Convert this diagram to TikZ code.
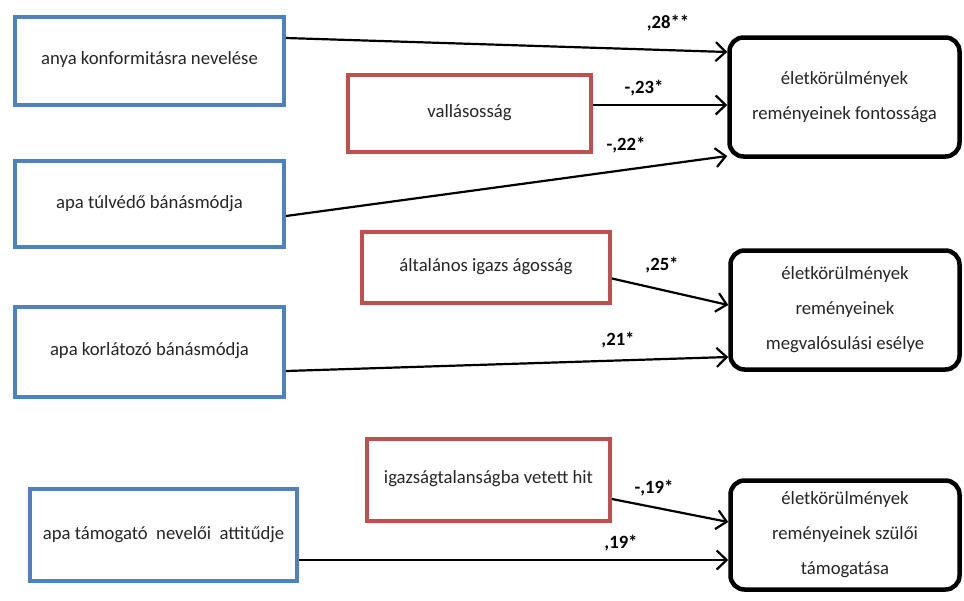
\documentclass[tikz,border=0pt]{standalone}
\usepackage{fontspec}
\setmainfont{Carlito}
\usetikzlibrary{arrows.meta}
\definecolor{boxblue}{HTML}{4F81BD}
\definecolor{boxred}{HTML}{C0504D}
\begin{document}
\begin{tikzpicture}[x=1pt,y=-1pt,
  every node/.style={font=\fontsize{18.7}{22}\selectfont, text=black!85},
  bluebox/.style={draw=boxblue, line width=4pt, fill=white, inner sep=0pt},
  redbox/.style={draw=boxred, line width=4pt, fill=white, inner sep=0pt},
  outbox/.style={draw=black, line width=4.5pt, rounded corners=14pt, fill=white, inner sep=0pt, align=center, font=\fontsize{18.7}{35}\selectfont},
  coef/.style={font=\bfseries\fontsize{18.7}{22}\selectfont, text=black, inner sep=0pt},
  path/.style={draw=black, line width=2.2pt, -{Straight Barb[length=10pt,width=19pt,line width=2.2pt]}}
]
\useasboundingbox[fill=white] (0,0) rectangle (964,600);

% outcome boxes
\node[outbox, minimum width=230, minimum height=119] (K1) at (844.5,97) {életkörülmények\\reményeinek fontossága};
\node[outbox, minimum width=229, minimum height=119] (K2) at (845,310) {életkörülmények\\reményeinek\\megvalósulási esélye};
\node[outbox, minimum width=229, minimum height=109] (K3) at (845,535) {életkörülmények\\reményeinek szülői\\támogatása};

% predictor boxes (blue)
\node[bluebox, minimum width=269, minimum height=88] (B1) at (149.5,61) {\raisebox{5pt}{anya konformitásra nevelése}};
\node[bluebox, minimum width=269, minimum height=86] (B2) at (149.5,204) {\raisebox{4pt}{apa túlvédő bánásmódja}};
\node[bluebox, minimum width=269, minimum height=90] (B3) at (149.5,352) {\raisebox{5pt}{apa korlátozó bánásmódja}};
\node[bluebox, minimum width=267, minimum height=92] (B4) at (163.5,535) {\raisebox{5pt}{apa támogató\ \ nevelői\ \ attitűdje}};

% predictor boxes (red)
\node[redbox, minimum width=243, minimum height=77] (R1) at (469.5,113.5) {\raisebox{5pt}{vallásosság}};
\node[redbox, minimum width=248, minimum height=71] (R2) at (486,267.5) {\raisebox{4pt}{általános igazs ágosság}};
\node[redbox, minimum width=243, minimum height=82] (R3) at (488.5,480) {\raisebox{5pt}{igazságtalanságba vetett hit}};

% paths
\draw[path] ([yshift=23pt]B1.east) -- ([yshift=45pt]K1.west);
\draw[path] ([yshift=8.5pt]R1.east) -- ([yshift=-8pt]K1.west);
\draw[path] ([yshift=-12pt]B2.east) -- ([yshift=-59pt]K1.west);
\draw[path] ([yshift=-11pt]R2.east) -- ([yshift=5pt]K2.west);
\draw[path] ([yshift=-19pt]B3.east) -- ([yshift=-47pt]K2.west);
\draw[path] ([yshift=-19pt]R3.east) -- ([yshift=13pt]K3.west);
\draw[path] ([yshift=-25pt]B4.east) -- ([yshift=-25pt]K3.west);

% coefficients
\node[coef] (c1) at (668,23) {,28**};
\node[coef] (c2) at (644,88) {-,23*};
\node[coef] (c3) at (626,145) {-,22*};
\node[coef] (c4) at (662,265) {,25*};
\node[coef] (c5) at (618,340) {,21*};
\node[coef] (c6) at (654,488) {-,19*};
\node[coef] (c7) at (621,543) {,19*};
\end{tikzpicture}
\end{document}
